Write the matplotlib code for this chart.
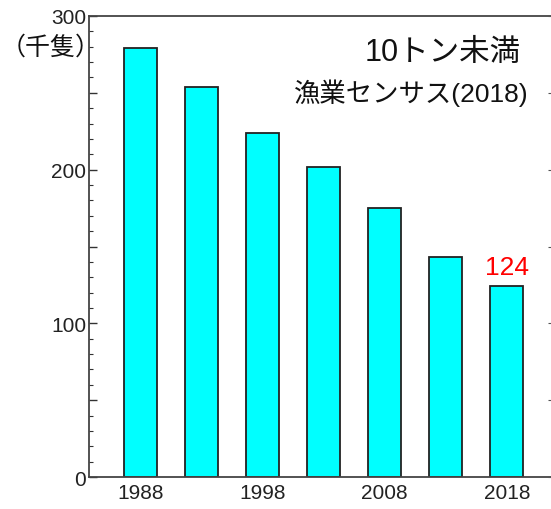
import matplotlib.pyplot as plt
from matplotlib.ticker import MultipleLocator, FuncFormatter

# Data: number of boats under 10 tons (thousand), fishery census
years = [1988, 1993, 1998, 2003, 2008, 2013, 2018]
boats = [279, 254, 224, 202, 175, 143, 124]
label_years = [1988, 1998, 2008, 2018]
last_label = "124"

plt.rcParams['font.family'] = ['Liberation Sans', 'Noto Sans CJK JP', 'DejaVu Sans']
jp_font = ['Noto Sans CJK JP', 'DejaVu Sans']
mix_font = ['Liberation Sans', 'Noto Sans CJK JP', 'DejaVu Sans']

fig = plt.figure(figsize=(5.51, 5.10), dpi=100)
ax = fig.add_axes([0.1615, 0.0627, 0.8403, 0.904])

ax.bar(years, boats, width=2.7, color='#00FFFF', edgecolor='#222222', linewidth=1.3)

ax.set_xlim(1983.8, 2021.7)
ax.set_ylim(0, 300)

# y ticks: majors every 50 (labels only at 100s), minors every 10
ax.yaxis.set_major_locator(MultipleLocator(50))
ax.yaxis.set_minor_locator(MultipleLocator(10))
ax.yaxis.set_major_formatter(FuncFormatter(lambda v, p: f"{int(v)}" if v % 100 == 0 else ""))
ax.tick_params(axis='y', which='major', direction='in', length=6, width=1, pad=2,
               labelsize=15, colors='#333333', labelcolor='#222222')
ax.tick_params(axis='y', which='minor', direction='in', length=3, width=0.8, colors='#333333')

ax.set_xticks(label_years)
ax.tick_params(axis='x', length=0, pad=4, labelsize=15, labelcolor='#222222')

for s in ['left', 'top', 'bottom']:
    ax.spines[s].set_linewidth(1.3)
    ax.spines[s].set_color('#444444')
ax.spines['right'].set_visible(False)

# small inward ticks on the right edge
ax2 = ax.twinx()
ax2.set_ylim(0, 300)
ax2.yaxis.set_major_locator(MultipleLocator(50))
ax2.tick_params(axis='y', direction='in', length=3, width=0.8, colors='#555555', labelright=False)
for s in ax2.spines.values():
    s.set_visible(False)

# value label on the last bar
ax.text(years[-1], boats[-1] + 5, last_label, ha='center', va='bottom',
        fontsize=19, color='red')

fig.text(0.0915, 0.906, '（千隻）', ha='center', va='center', fontsize=18,
         family=jp_font, color='#111111')
fig.text(0.945, 0.897, '10トン未満', ha='right', va='center', fontsize=22,
         family=mix_font, color='#111111')
fig.text(0.96, 0.818, '漁業センサス(2018)', ha='right', va='center', fontsize=19,
         family=mix_font, color='#111111')

fig.savefig('out.png', dpi=100)
